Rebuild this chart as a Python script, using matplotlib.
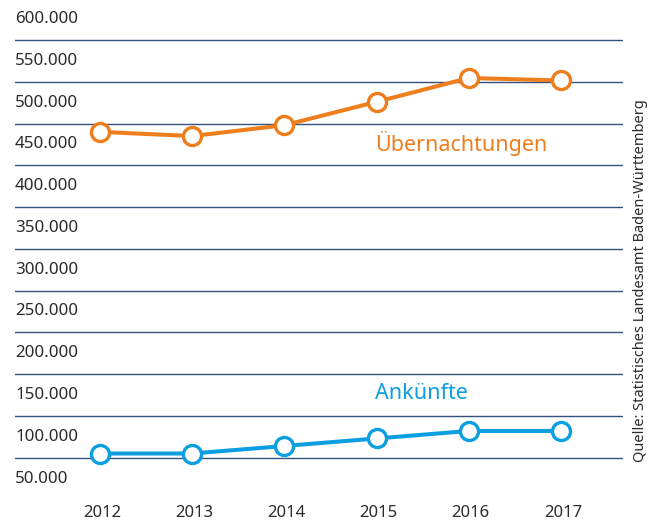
import matplotlib.pyplot as plt
from matplotlib.transforms import blended_transform_factory

years = [2012, 2013, 2014, 2015, 2016, 2017]
uebernachtungen = [465000, 460000, 473000, 501000, 529500, 526500]
ankuenfte = [80000, 80000, 89000, 98000, 107000, 107000]
y_labels = [600000, 550000, 500000, 450000, 400000, 350000, 300000,
            250000, 200000, 150000, 100000, 50000]
grid_values = [575000, 525000, 475000, 425000, 375000, 325000, 275000,
               225000, 175000, 125000, 75000]

orange = '#ee7d1c'
blue = '#0b9ee0'
grid_col = '#34507f'
text_col = '#2b2b2b'

plt.rcParams['font.family'] = ['Noto Sans', 'DejaVu Sans']

fig = plt.figure(figsize=(6.53, 5.22), dpi=100)
ax = fig.add_axes([15 / 653, 0, 608 / 653, 1])
ax.set_xlim(2011.078, 2017.672)
ax.set_ylim(-1990, 622860)
ax.axis('off')

for g in grid_values:
    ax.axhline(g, color=grid_col, lw=1.0, zorder=1)

trans = blended_transform_factory(ax.transAxes, ax.transData)
for v in y_labels:
    lab = f'{v:,}'.replace(',', '.')
    ax.text(0, v, lab, transform=trans, ha='left', va='center',
            fontsize=12.2, color=text_col)

for yr in years:
    ax.text(yr + 0.02, 9000, str(yr), ha='center', va='center',
            fontsize=12, color=text_col)

style = dict(lw=2.9, marker='o', markersize=13, markerfacecolor='white',
             markeredgewidth=2.4, zorder=3, solid_joinstyle='round')
ax.plot(years, uebernachtungen, color=orange, **style)
ax.plot(years, ankuenfte, color=blue, **style)

ax.text(2014.985, 451500, 'Übernachtungen', ha='left', va='center',
        fontsize=15.5, color=orange)
ax.text(2014.985, 151500, 'Ankünfte', ha='left', va='center',
        fontsize=15.5, color=blue)

fig.text(640 / 653, 1 - 281 / 522, 'Quelle: Statistisches Landesamt Baden-Württemberg',
         rotation=90, ha='center', va='center', fontsize=10.5, color=text_col)

fig.savefig('out.png', dpi=100)
